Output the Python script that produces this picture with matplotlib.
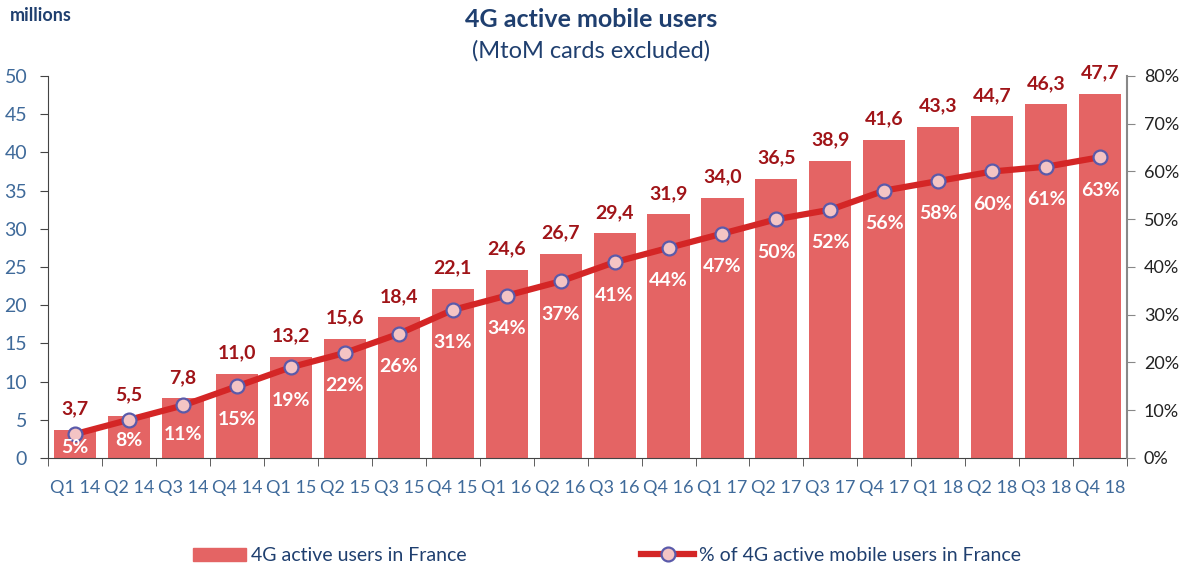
import numpy as np
import matplotlib
matplotlib.use("Agg")
import matplotlib.pyplot as plt
from matplotlib.lines import Line2D
from matplotlib.patches import Patch

plt.rcParams['font.family'] = ['Lato', 'DejaVu Sans']

# data
quarters = ['Q1 14', 'Q2 14', 'Q3 14', 'Q4 14', 'Q1 15', 'Q2 15', 'Q3 15', 'Q4 15',
            'Q1 16', 'Q2 16', 'Q3 16', 'Q4 16', 'Q1 17', 'Q2 17', 'Q3 17', 'Q4 17',
            'Q1 18', 'Q2 18', 'Q3 18', 'Q4 18']
users = [3.7, 5.5, 7.8, 11.0, 13.2, 15.6, 18.4, 22.1, 24.6, 26.7,
         29.4, 31.9, 34.0, 36.5, 38.9, 41.6, 43.3, 44.7, 46.3, 47.7]
share = [5, 8, 11, 15, 19, 22, 26, 31, 34, 37,
         41, 44, 47, 50, 52, 56, 58, 60, 61, 63]

bar_col = '#E46464'
line_col = '#D42626'
val_col = '#A01418'
blue_txt = '#3F6A9A'
navy = '#1F3F6F'

fig = plt.figure(figsize=(11.89, 5.70), dpi=100)
ax = fig.add_axes([0.0404, 0.1965, 0.9076, 0.6702])
ax2 = ax.twinx()

x = np.arange(len(quarters))
ax.bar(x, users, width=0.78, color=bar_col, zorder=2)
for xi, v in zip(x, users):
    ax.annotate(f'{v:.1f}'.replace('.', ','), (xi, v), xytext=(0, 9),
                textcoords='offset points', ha='center', va='bottom',
                fontsize=14, fontweight='bold', color=val_col)

ax2.plot(x, share, color=line_col, lw=4.5, marker='o', ms=10,
         mfc='#F4C4C4', mec='#5A5AAA', mew=1.6, zorder=3)
for xi, p in zip(x, share):
    ly = max(p - 6.9, p * 0.45)
    ax2.text(xi, ly, f'{p}%', ha='center', va='center', fontsize=14,
             fontweight='bold', color='white', zorder=4)

ax.set_xlim(-0.5, len(quarters) - 0.5)
ax.set_ylim(0, 50)
ax2.set_ylim(0, 80)
ax.set_yticks(range(0, 51, 5))
ax2.set_yticks(range(0, 81, 10))
ax2.set_yticklabels([f'{t}%' for t in range(0, 81, 10)])

ax.set_xticks(x)
ax.set_xticklabels(quarters)
ax.set_xticks(np.arange(-0.5, len(quarters)), minor=True)
ax.tick_params(axis='x', which='major', length=0, pad=16, labelsize=13, labelcolor=blue_txt)
ax.tick_params(axis='x', which='minor', length=6, color='#444444', direction='out')
ax.tick_params(axis='y', length=6, color='#444444', labelsize=14, labelcolor=blue_txt, pad=9)
ax2.tick_params(axis='y', length=6, color='#888888', labelsize=13, labelcolor='#222222', pad=6)

for a in (ax, ax2):
    a.spines['top'].set_visible(False)
ax.spines['right'].set_visible(False)
ax.spines['left'].set_color('#444444')
ax.spines['bottom'].set_color('#444444')
ax2.spines['left'].set_visible(False)
ax2.spines['bottom'].set_visible(False)
ax2.spines['right'].set_color('#888888')
ax2.spines['right'].set_linewidth(1.5)

fig.text(0.497, 0.966, '4G active mobile users', ha='center', va='center',
         fontsize=18, fontweight='bold', color=navy)
fig.text(0.497, 0.910, '(MtoM cards excluded)', ha='center', va='center',
         fontsize=17, color=navy)
fig.text(0.008, 0.972, 'millions', ha='left', va='center', fontsize=13,
         fontweight='bold', color=navy)

handles = [Patch(color=bar_col),
           Line2D([], [], color=line_col, lw=4.5, marker='o', ms=10,
                  mfc='#F4C4C4', mec='#5A5AAA', mew=1.6)]
leg = fig.legend(handles, ['4G active users in France', '% of 4G active mobile users in France'],
                 loc='center', bbox_to_anchor=(0.5105, 0.025), ncol=2, frameon=False,
                 fontsize=14, handlelength=2.7, handleheight=0.7, columnspacing=9.0,
                 handletextpad=0.25)
for t in leg.get_texts():
    t.set_color(navy)

fig.savefig('out.png', dpi=100)
